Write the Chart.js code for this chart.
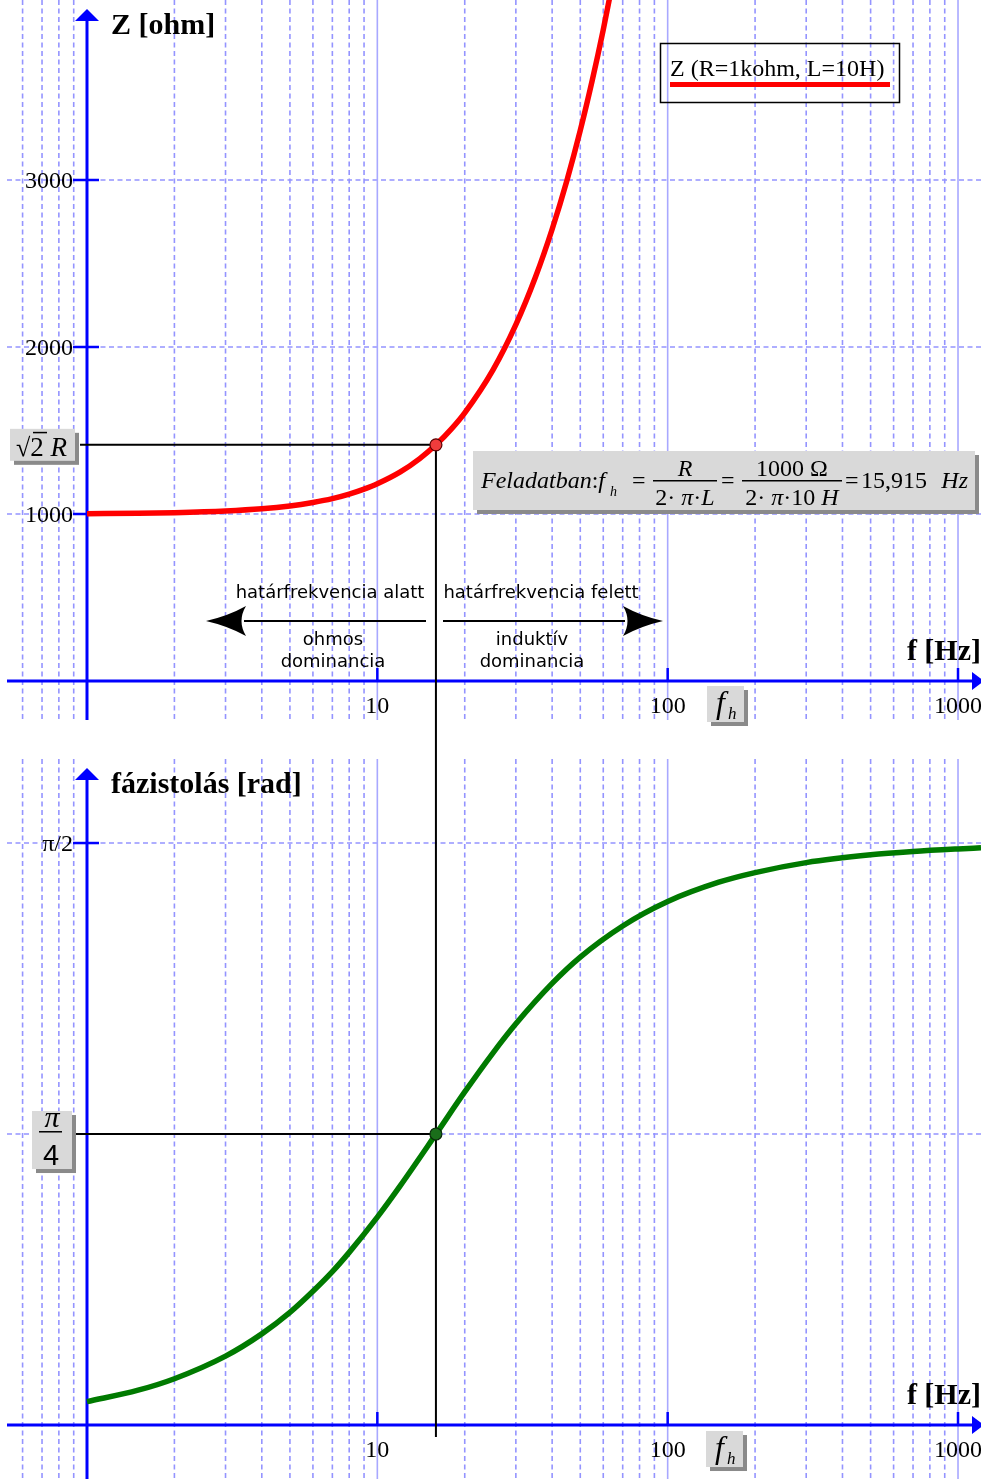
<!DOCTYPE html>
<html>
<head>
<meta charset="utf-8">
<script src="https://cdn.jsdelivr.net/npm/chart.js@4.4.1/dist/chart.umd.min.js"></script>
<style>
  body { margin: 0; background: #fff; }
  #wrap { position: relative; width: 981px; height: 1479px; }
  canvas { position: absolute; left: 0; }
</style>
</head>
<body>
<div id="wrap">
  <canvas id="impedancia" width="981" height="759" style="top:0"></canvas>
  <canvas id="fazis" width="981" height="720" style="top:759px"></canvas>
</div>
<script>
// adatok leolvasva a grafikonrol
var frekZ = [1, 1.5, 2, 3, 4, 5, 6, 7, 8, 9, 10, 12, 14, 15.915, 18, 20, 25, 30, 35, 40, 45, 50, 55, 60, 65];
var impedancia = [1002, 1004, 1008, 1018, 1031, 1048, 1069, 1092, 1119, 1149, 1181, 1252, 1332, 1414, 1510, 1606, 1862, 2134, 2416, 2705, 2999, 3297, 3598, 3900, 4205];
var frekFi = [1, 1.5, 2, 3, 4, 5, 6, 7, 8, 10, 12, 15.915, 20, 25, 30, 40, 50, 70, 100, 150, 200, 300, 500, 700, 1000, 1200];
var fazis = [0.063, 0.094, 0.125, 0.186, 0.246, 0.304, 0.361, 0.414, 0.466, 0.561, 0.646, 0.785, 0.899, 1.004, 1.083, 1.192, 1.263, 1.347, 1.413, 1.465, 1.491, 1.518, 1.539, 1.548, 1.555, 1.558];

var fh = 15.915;        // hatarfrekvencia
var gyok2R = 1414.2;    // sqrt(2)*R
var fazisFh = 0.7854;   // pi/4

// racsvonalak, osztasok
var xRacs = [0.6, 0.7, 0.8, 0.9, 2, 3, 4, 5, 6, 7, 8, 9, 20, 30, 40, 50, 60, 70, 80, 90, 200, 300, 400, 500, 600, 700, 800, 900];
var xFo = [10, 100, 1000];
var xFoCimke = ['10', '100', '1000'];
var zRacs = [1000, 2000, 3000];
var zCimke = ['1000', '2000', '3000'];
var fiRacs = [0.7854, 1.5708];
var fiOsztas = [1.5708];
var fiCimke = ['\u03c0/2'];

var SERIF = '"Liberation Serif", "Times New Roman", serif';
var SANS = '"DejaVu Sans", sans-serif';
var KEK = '#0000ff';

function pontok(xs, ys) {
  return xs.map(function (x, i) { return { x: x, y: ys[i] }; });
}

function racs(chart, vizszintes) {
  var ctx = chart.ctx, a = chart.chartArea, sx = chart.scales.x, sy = chart.scales.y;
  ctx.save();
  ctx.lineWidth = 1.6;
  ctx.strokeStyle = '#9494ff';
  ctx.setLineDash([5, 3.5]);
  xRacs.forEach(function (f) {
    var px = sx.getPixelForValue(f);
    ctx.beginPath(); ctx.moveTo(px, a.top); ctx.lineTo(px, a.bottom); ctx.stroke();
  });
  vizszintes.forEach(function (v) {
    var py = sy.getPixelForValue(v);
    ctx.beginPath(); ctx.moveTo(7, py); ctx.lineTo(a.right, py); ctx.stroke();
  });
  ctx.setLineDash([]);
  ctx.strokeStyle = '#a8a8ff';
  xFo.forEach(function (f) {
    var px = sx.getPixelForValue(f);
    ctx.beginPath(); ctx.moveTo(px, a.top); ctx.lineTo(px, a.bottom); ctx.stroke();
  });
  ctx.restore();
}

function tengelyek(chart, osztas, cimkek, cim) {
  var ctx = chart.ctx, a = chart.chartArea, sx = chart.scales.x, sy = chart.scales.y;
  var x0 = sx.getPixelForValue(1), y0 = sy.getPixelForValue(0);
  ctx.save();
  ctx.strokeStyle = KEK; ctx.fillStyle = KEK;
  ctx.lineWidth = 3;
  // y tengely nyillal
  ctx.beginPath(); ctx.moveTo(x0, 18); ctx.lineTo(x0, a.bottom); ctx.stroke();
  ctx.beginPath(); ctx.moveTo(x0, 9); ctx.lineTo(x0 - 12, 21); ctx.lineTo(x0 + 12, 21); ctx.closePath(); ctx.fill();
  // x tengely nyillal
  ctx.beginPath(); ctx.moveTo(7, y0); ctx.lineTo(a.right - 6, y0); ctx.stroke();
  ctx.beginPath(); ctx.moveTo(a.right + 3, y0); ctx.lineTo(a.right - 9, y0 - 9); ctx.lineTo(a.right - 9, y0 + 9); ctx.closePath(); ctx.fill();
  // osztasok
  ctx.lineWidth = 2.5;
  osztas.forEach(function (v) {
    var py = sy.getPixelForValue(v);
    ctx.beginPath(); ctx.moveTo(x0 - 14, py); ctx.lineTo(x0 + 12, py); ctx.stroke();
  });
  xFo.forEach(function (f) {
    var px = sx.getPixelForValue(f);
    ctx.beginPath(); ctx.moveTo(px, y0 - 13); ctx.lineTo(px, y0); ctx.stroke();
  });
  // feliratok
  ctx.fillStyle = '#000';
  ctx.font = '24px ' + SERIF;
  ctx.textAlign = 'right';
  osztas.forEach(function (v, i) {
    ctx.fillText(cimkek[i], x0 - 14, sy.getPixelForValue(v) + 8);
  });
  ctx.textAlign = 'center';
  xFo.forEach(function (f, i) {
    ctx.fillText(xFoCimke[i], sx.getPixelForValue(f), y0 + 32);
  });
  ctx.font = 'bold 30px ' + SERIF;
  ctx.textAlign = 'left';
  ctx.fillText(cim, x0 + 24, 34);
  ctx.textAlign = 'right';
  ctx.fillText('f [Hz]', a.right, y0 - 21);
  ctx.restore();
}

function doboz(ctx, x, y, w, h) {
  ctx.fillStyle = '#8a8a8a';
  ctx.fillRect(x + 4, y + 4, w, h);
  ctx.fillStyle = '#d9d9d9';
  ctx.fillRect(x, y, w, h);
}

// vegyes betutipusu szoveg; visszaadja a jobb szelet
function sor(ctx, reszek, x, y, igazitas) {
  var w = 0;
  reszek.forEach(function (r) { ctx.font = r[1]; w += ctx.measureText(r[0]).width; });
  var cx = igazitas === 'center' ? x - w / 2 : (igazitas === 'right' ? x - w : x);
  ctx.textAlign = 'left';
  reszek.forEach(function (r) {
    ctx.font = r[1]; ctx.fillText(r[0], cx, y); cx += ctx.measureText(r[0]).width;
  });
  return cx;
}

function fhDoboz(ctx, x, y) {
  doboz(ctx, x, y, 37, 36);
  ctx.fillStyle = '#000';
  ctx.textAlign = 'left';
  ctx.font = 'italic 32px ' + SERIF;
  ctx.fillText('f', x + 9, y + 27);
  ctx.font = 'italic 17px ' + SERIF;
  ctx.fillText('h', x + 21, y + 33);
}

function nyil(ctx, hegy, vege, y, irany) {
  ctx.save();
  ctx.strokeStyle = '#000'; ctx.fillStyle = '#000'; ctx.lineWidth = 2;
  var alap = hegy + irany * 40;
  ctx.beginPath(); ctx.moveTo(alap - irany * 2, y); ctx.lineTo(vege, y); ctx.stroke();
  ctx.beginPath();
  ctx.moveTo(hegy, y);
  ctx.quadraticCurveTo(hegy + irany * 22, y - 5, alap, y - 15);
  ctx.quadraticCurveTo(alap - irany * 9, y, alap, y + 15);
  ctx.quadraticCurveTo(hegy + irany * 22, y + 5, hegy, y);
  ctx.fill();
  ctx.restore();
}

var felsoDisz = {
  id: 'felsoDisz',
  beforeDatasetsDraw: function (chart) {
    var ctx = chart.ctx, sx = chart.scales.x, sy = chart.scales.y;
    racs(chart, zRacs);
    tengelyek(chart, zRacs, zCimke, 'Z [ohm]');
    var px = sx.getPixelForValue(fh), py = sy.getPixelForValue(gyok2R);
    ctx.save();
    ctx.strokeStyle = '#000'; ctx.lineWidth = 2;
    ctx.beginPath(); ctx.moveTo(80, py); ctx.lineTo(px, py); ctx.moveTo(px, py); ctx.lineTo(px, chart.height); ctx.stroke();
    ctx.restore();
  },
  afterDatasetsDraw: function (chart) {
    var ctx = chart.ctx, sy = chart.scales.y;
    var py = sy.getPixelForValue(gyok2R), y0 = sy.getPixelForValue(0);
    ctx.save();
    // sqrt(2) R
    doboz(ctx, 10, py - 16, 65, 32);
    ctx.fillStyle = '#000';
    sor(ctx, [['\u221a', '26px ' + SERIF], ['2', '27px ' + SERIF], [' ', '27px ' + SERIF], ['R', 'italic 27px ' + SERIF]], 16, py + 11);
    ctx.fillRect(33, py - 13, 14, 1.5);
    // keplet
    doboz(ctx, 473, 451, 502, 59);
    ctx.fillStyle = '#000';
    var I = 'italic 24px ' + SERIF, R = '24px ' + SERIF, y = 488;
    var jobb = sor(ctx, [['Feladatban', I], [':', R], ['f', I]], 481, y);
    sor(ctx, [['h', 'italic 14px ' + SERIF]], jobb + 5, 496);
    ctx.font = R; ctx.textAlign = 'left'; ctx.fillText('=', 632, y);
    sor(ctx, [['R', I]], 685, 476, 'center');
    ctx.fillRect(653, 480, 64, 1.5);
    sor(ctx, [['2\u00b7 ', R], ['\u03c0', I], ['\u00b7', R], ['L', I]], 685, 505, 'center');
    ctx.font = R; ctx.textAlign = 'left'; ctx.fillText('=', 721, y);
    sor(ctx, [['1000 \u03a9', R]], 792, 476, 'center');
    ctx.fillRect(742, 480, 100, 1.5);
    sor(ctx, [['2\u00b7 ', R], ['\u03c0', I], ['\u00b710 ', R], ['H', I]], 792, 505, 'center');
    ctx.font = R; ctx.textAlign = 'left'; ctx.fillText('=', 845, y);
    ctx.fillText('15,915', 861, y);
    sor(ctx, [['Hz', I]], 968, y, 'right');
    // jelmagyarazat
    ctx.strokeStyle = '#000'; ctx.lineWidth = 1.5;
    ctx.strokeRect(660.5, 43.5, 239, 59);
    ctx.fillStyle = '#000';
    ctx.font = '24px ' + SERIF; ctx.textAlign = 'left';
    ctx.fillText('Z (R=1kohm, L=10H)', 670, 76);
    ctx.fillStyle = '#ff0000';
    ctx.fillRect(670, 82, 220, 5);
    // nyilak es szovegek
    nyil(ctx, 206, 426, 621, 1);
    nyil(ctx, 663, 443, 621, -1);
    ctx.fillStyle = '#000';
    ctx.font = '18px ' + SANS; ctx.textAlign = 'center';
    ctx.fillText('határfrekvencia alatt', 330, 598);
    ctx.fillText('határfrekvencia felett', 541, 598);
    ctx.fillText('ohmos', 333, 645);
    ctx.fillText('dominancia', 333, 667);
    ctx.fillText('induktív', 532, 645);
    ctx.fillText('dominancia', 532, 667);
    fhDoboz(ctx, 707, y0 + 5);
    ctx.restore();
  }
};

var alsoDisz = {
  id: 'alsoDisz',
  beforeDatasetsDraw: function (chart) {
    var ctx = chart.ctx, sx = chart.scales.x, sy = chart.scales.y;
    racs(chart, fiRacs);
    tengelyek(chart, fiOsztas, fiCimke, 'fázistolás [rad]');
    var px = sx.getPixelForValue(fh), py = sy.getPixelForValue(fazisFh), y0 = sy.getPixelForValue(0);
    ctx.save();
    ctx.strokeStyle = '#000'; ctx.lineWidth = 2;
    ctx.beginPath(); ctx.moveTo(75, py); ctx.lineTo(px, py); ctx.moveTo(px, 0); ctx.lineTo(px, y0 + 12); ctx.stroke();
    ctx.restore();
  },
  afterDatasetsDraw: function (chart) {
    var ctx = chart.ctx, sy = chart.scales.y;
    var py = sy.getPixelForValue(fazisFh), y0 = sy.getPixelForValue(0);
    ctx.save();
    doboz(ctx, 32, py - 23, 40, 58);
    ctx.fillStyle = '#000';
    ctx.textAlign = 'center';
    ctx.font = 'italic 30px ' + SERIF; ctx.fillText('\u03c0', 52, py - 7);
    ctx.fillRect(39, py - 3, 23, 1.5);
    ctx.font = '29px "Liberation Sans", sans-serif'; ctx.fillText('4', 51, py + 31);
    fhDoboz(ctx, 706, y0 + 6);
    ctx.restore();
  }
};

function alapBeallitas(ymin, ymax, alsoPad) {
  return {
    responsive: false,
    animation: false,
    events: [],
    layout: { autoPadding: false, padding: { left: 0, right: 0, top: 0, bottom: alsoPad } },
    plugins: { legend: { display: false }, tooltip: { enabled: false } },
    scales: {
      x: { type: 'logarithmic', min: 0.5016, max: 1200, display: false },
      y: { type: 'linear', min: ymin, max: ymax, display: false }
    }
  };
}

new Chart(document.getElementById('impedancia').getContext('2d'), {
  type: 'line',
  data: {
    datasets: [
      {
        label: 'fh pont',
        data: [{ x: fh, y: gyok2R }],
        showLine: false,
        pointRadius: 6,
        pointBackgroundColor: '#f03c3c',
        pointBorderColor: '#5a0000',
        pointBorderWidth: 1.2,
        order: 0
      },
      {
        label: 'Z (R=1kohm, L=10H)',
        data: pontok(frekZ, impedancia),
        borderColor: '#ff0000',
        borderWidth: 5.5,
        pointRadius: 0,
        cubicInterpolationMode: 'monotone',
        order: 1
      }
    ]
  },
  options: alapBeallitas(-233.5, 4077.8, 39),
  plugins: [felsoDisz]
});

new Chart(document.getElementById('fazis').getContext('2d'), {
  type: 'line',
  data: {
    datasets: [
      {
        label: 'fh pont',
        data: [{ x: fh, y: fazisFh }],
        showLine: false,
        pointRadius: 6,
        pointBackgroundColor: '#1a6e1a',
        pointBorderColor: '#0a2a0a',
        pointBorderWidth: 1.2,
        order: 0
      },
      {
        label: 'fazistolas',
        data: pontok(frekFi, fazis),
        borderColor: '#007a00',
        borderWidth: 5.5,
        pointRadius: 0,
        cubicInterpolationMode: 'monotone',
        order: 1
      }
    ]
  },
  options: alapBeallitas(-0.1457, 1.7976, 0),
  plugins: [alsoDisz]
});
</script>
</body>
</html>
